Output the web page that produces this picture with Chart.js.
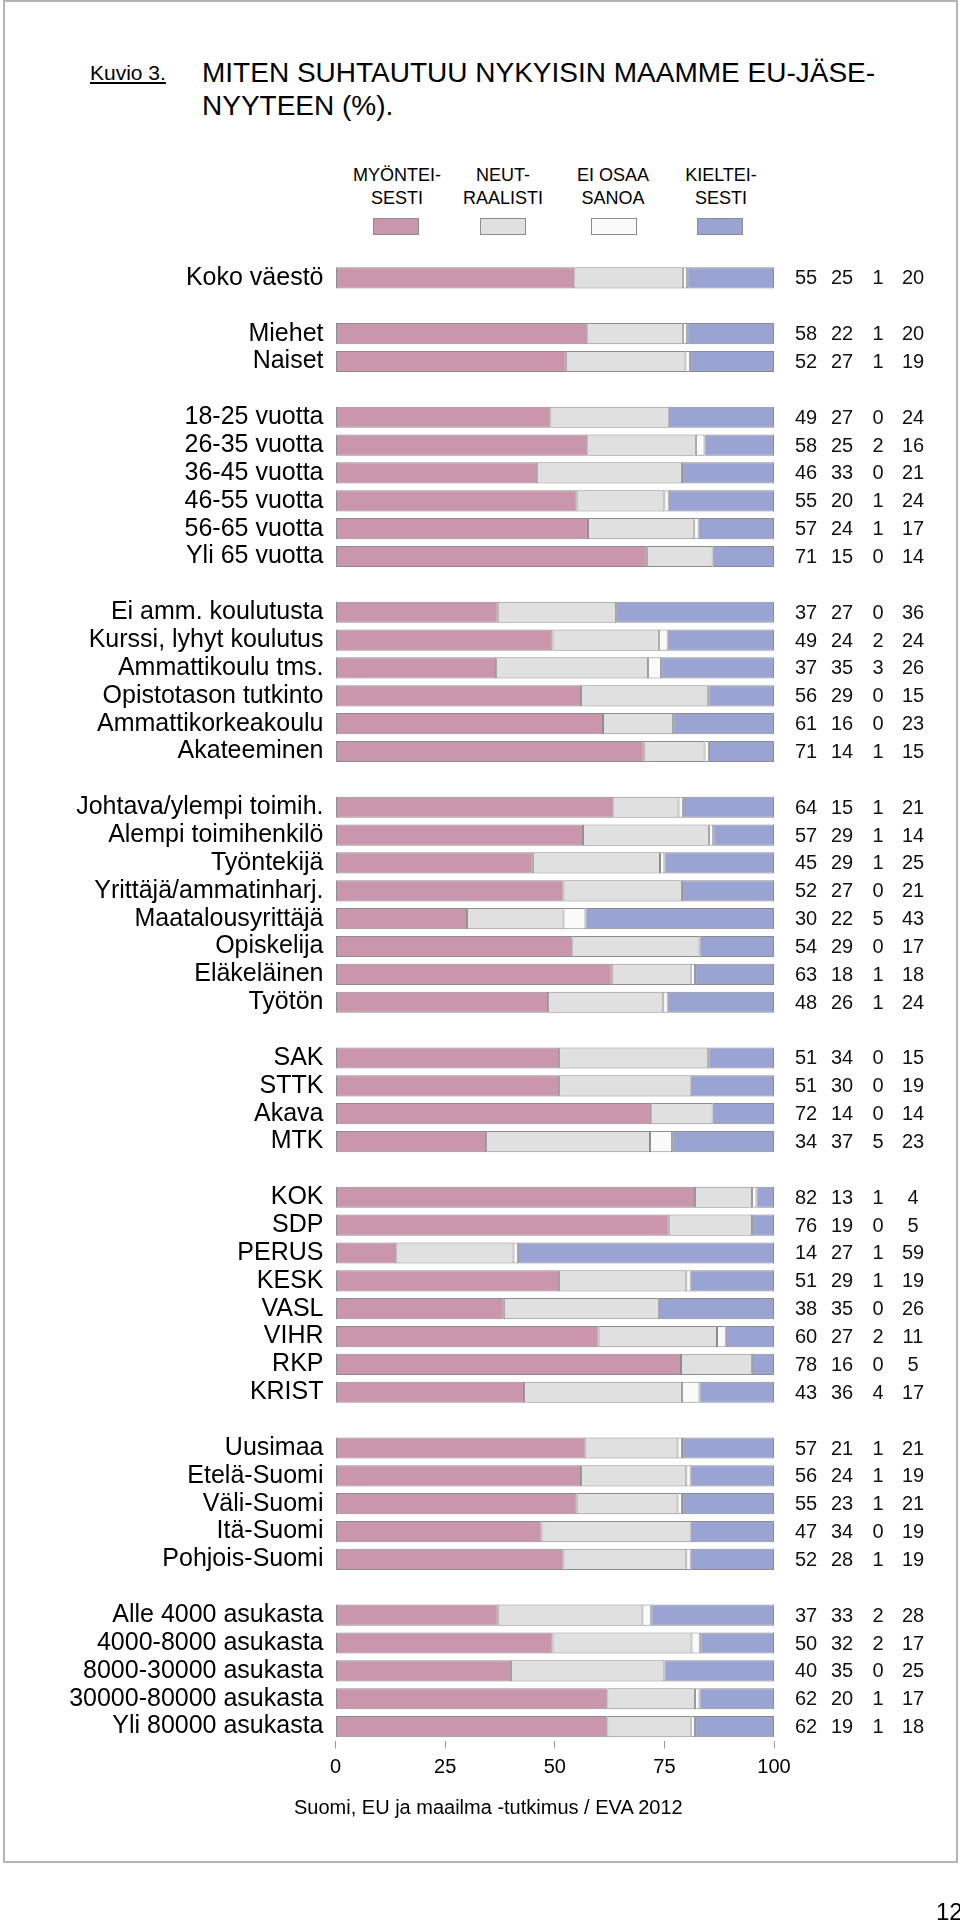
<!DOCTYPE html>
<html>
<head>
<meta charset="utf-8">
<script src="https://cdn.jsdelivr.net/npm/chart.js@4"></script>
<style>
  body { margin: 0; background: #fff; font-family: 'Liberation Sans', Arial, sans-serif; color: #000; }
  #page { position: relative; width: 960px; height: 1920px; overflow: hidden; }
  #frame { position: absolute; left: 3px; top: 0; width: 955px; height: 1863px; border: 2px solid #b4b4b4; box-sizing: border-box; }
  .t { position: absolute; line-height: 1; white-space: nowrap; }
  .leg { position: absolute; width: 130px; text-align: center; font-size: 18px; line-height: 1; }
  .sw { position: absolute; top: 218px; width: 46px; height: 17px; border: 1px solid #8c8c8c; box-sizing: border-box; }
  canvas { position: absolute; left: 0; top: 0; }
</style>
</head>
<body>
<div id="page">
  <div id="frame"></div>
  <div class="t" style="left:90px;top:62px;font-size:21px;text-decoration:underline;">Kuvio 3.</div>
  <div class="t" style="left:202px;top:59px;font-size:28px;">MITEN SUHTAUTUU NYKYISIN MAAMME EU-JÄSE-</div>
  <div class="t" style="left:202px;top:92px;font-size:28px;">NYYTEEN (%).</div>

  <div class="leg" style="left:332px;top:166px;">MYÖNTEI-</div>
  <div class="leg" style="left:332px;top:189px;">SESTI</div>
  <div class="leg" style="left:438px;top:166px;">NEUT-</div>
  <div class="leg" style="left:438px;top:189px;">RAALISTI</div>
  <div class="leg" style="left:548px;top:166px;">EI OSAA</div>
  <div class="leg" style="left:548px;top:189px;">SANOA</div>
  <div class="leg" style="left:656px;top:166px;">KIELTEI-</div>
  <div class="leg" style="left:656px;top:189px;">SESTI</div>
  <div class="sw" style="left:373px;background:#c996ae;"></div>
  <div class="sw" style="left:480px;background:#e0e0e0;"></div>
  <div class="sw" style="left:591px;background:#fafafa;"></div>
  <div class="sw" style="left:697px;background:#9aa4d2;"></div>

  <canvas id="chart" width="960" height="1920"></canvas>

  <div class="t" style="left:294px;top:1797px;font-size:20px;">Suomi, EU ja maailma -tutkimus / EVA 2012</div>
  <div class="t" style="left:936px;top:1900px;font-size:24px;">12</div>
</div>

<script>
// rows, empty strings are the gaps between groups
const categories = [
  'Koko väestö', '',
  'Miehet', 'Naiset', '',
  '18-25 vuotta', '26-35 vuotta', '36-45 vuotta', '46-55 vuotta', '56-65 vuotta', 'Yli 65 vuotta', '',
  'Ei amm. koulutusta', 'Kurssi, lyhyt koulutus', 'Ammattikoulu tms.', 'Opistotason tutkinto', 'Ammattikorkeakoulu', 'Akateeminen', '',
  'Johtava/ylempi toimih.', 'Alempi toimihenkilö', 'Työntekijä', 'Yrittäjä/ammatinharj.', 'Maatalousyrittäjä', 'Opiskelija', 'Eläkeläinen', 'Työtön', '',
  'SAK', 'STTK', 'Akava', 'MTK', '',
  'KOK', 'SDP', 'PERUS', 'KESK', 'VASL', 'VIHR', 'RKP', 'KRIST', '',
  'Uusimaa', 'Etelä-Suomi', 'Väli-Suomi', 'Itä-Suomi', 'Pohjois-Suomi', '',
  'Alle 4000 asukasta', '4000-8000 asukasta', '8000-30000 asukasta', '30000-80000 asukasta', 'Yli 80000 asukasta'
];

const myonteisesti = [
  55, null,
  58, 52, null,
  49, 58, 46, 55, 57, 71, null,
  37, 49, 37, 56, 61, 71, null,
  64, 57, 45, 52, 30, 54, 63, 48, null,
  51, 51, 72, 34, null,
  82, 76, 14, 51, 38, 60, 78, 43, null,
  57, 56, 55, 47, 52, null,
  37, 50, 40, 62, 62
];

const neutraalisti = [
  25, null,
  22, 27, null,
  27, 25, 33, 20, 24, 15, null,
  27, 24, 35, 29, 16, 14, null,
  15, 29, 29, 27, 22, 29, 18, 26, null,
  34, 30, 14, 37, null,
  13, 19, 27, 29, 35, 27, 16, 36, null,
  21, 24, 23, 34, 28, null,
  33, 32, 35, 20, 19
];

const eiOsaaSanoa = [
  1, null,
  1, 1, null,
  0, 2, 0, 1, 1, 0, null,
  0, 2, 3, 0, 0, 1, null,
  1, 1, 1, 0, 5, 0, 1, 1, null,
  0, 0, 0, 5, null,
  1, 0, 1, 1, 0, 2, 0, 4, null,
  1, 1, 1, 0, 1, null,
  2, 2, 0, 1, 1
];

const kielteisesti = [
  20, null,
  20, 19, null,
  24, 16, 21, 24, 17, 14, null,
  36, 24, 26, 15, 23, 15, null,
  21, 14, 25, 21, 43, 17, 18, 24, null,
  15, 19, 14, 23, null,
  4, 5, 59, 19, 26, 11, 5, 17, null,
  21, 19, 21, 19, 19, null,
  28, 17, 25, 17, 18
];

const seriesNames = ['MYÖNTEISESTI', 'NEUTRAALISTI', 'EI OSAA SANOA', 'KIELTEISESTI'];
const seriesColors = ['#c996ae', '#e0e0e0', '#fafafa', '#9aa4d2'];
const xTicks = [0, 25, 50, 75, 100];

const allSeries = [myonteisesti, neutraalisti, eiOsaaSanoa, kielteisesti];

// printed figures are rounded, so scale each row to 100 for the bars
const rowTotals = categories.map((c, i) =>
  myonteisesti[i] === null ? null : allSeries.reduce((s, arr) => s + arr[i], 0));

const FONT = "'Liberation Sans', Arial, sans-serif";

const datasets = allSeries.map((arr, k) => ({
  label: seriesNames[k],
  data: arr.map((v, i) => v === null ? null : v / rowTotals[i] * 100),
  backgroundColor: seriesColors[k],
  borderColor: '#8c8c8c',
  borderWidth: 1,
  borderSkipped: false,
  barPercentage: 0.76,
  categoryPercentage: 1.0
}));

// the four number columns right of the bars
const numberColumns = {
  id: 'numberColumns',
  afterDatasetsDraw(chart) {
    const ctx = chart.ctx;
    const yScale = chart.scales.y;
    const colX = [806, 842, 878, 913];
    ctx.save();
    ctx.font = '20px ' + FONT;
    ctx.fillStyle = '#111';
    ctx.textAlign = 'center';
    ctx.textBaseline = 'middle';
    categories.forEach((c, i) => {
      if (myonteisesti[i] === null) return;
      const y = yScale.getPixelForValue(i);
      allSeries.forEach((arr, k) => {
        ctx.fillText(String(arr[i]), colX[k], y + 1);
      });
    });
    ctx.restore();
  }
};

const ctx = document.getElementById('chart').getContext('2d');
const myChart = new Chart(ctx, {
  type: 'bar',
  data: { labels: categories, datasets: datasets },
  options: {
    indexAxis: 'y',
    responsive: false,
    animation: false,
    layout: { padding: { left: 0, right: 186, top: 264, bottom: 139.5 } },
    plugins: {
      legend: { display: false },
      tooltip: { enabled: false }
    },
    scales: {
      x: {
        stacked: true,
        min: 0,
        max: 100,
        afterBuildTicks: (scale) => { scale.ticks = xTicks.map(v => ({ value: v })); },
        ticks: { color: '#000', font: { size: 20, family: FONT }, padding: 7, maxRotation: 0 },
        grid: { drawOnChartArea: false, drawTicks: true, tickLength: 8, color: '#999', lineWidth: 1 },
        border: { display: false },
        afterFit: (scale) => { scale.height = 40; }
      },
      y: {
        stacked: true,
        ticks: { color: '#000', font: { size: 25, family: FONT }, padding: 12, autoSkip: false },
        grid: { display: false, drawTicks: false },
        border: { display: false },
        afterFit: (scale) => { scale.width = 335.5; }
      }
    }
  },
  plugins: [numberColumns]
});
</script>
</body>
</html>
